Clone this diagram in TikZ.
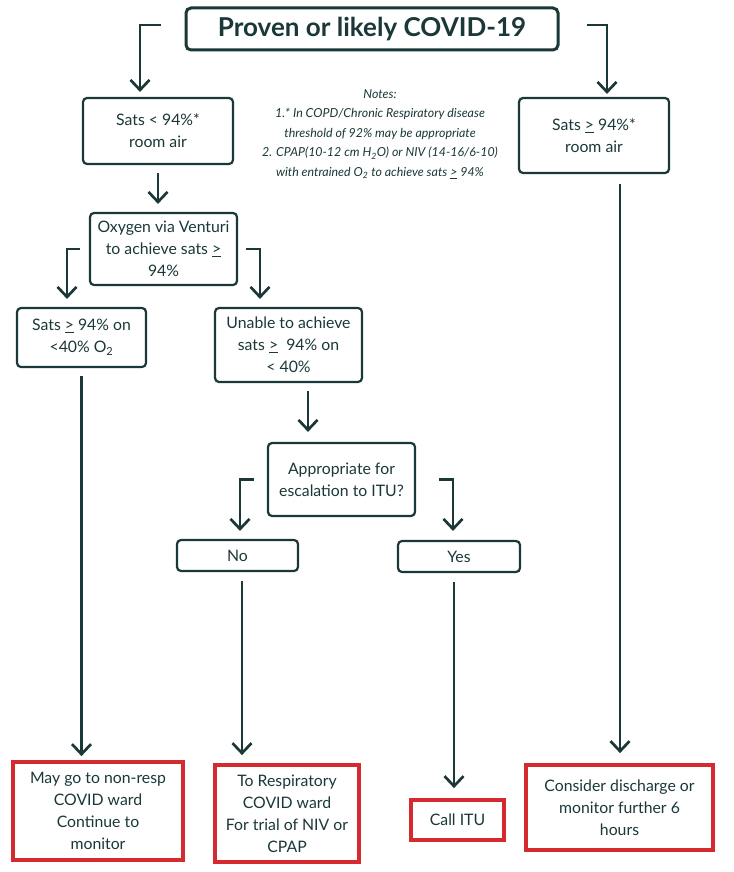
\documentclass[tikz,border=0pt]{standalone}
\usepackage{fontspec}
\setmainfont{Lato}
\usetikzlibrary{arrows.meta,calc}
\definecolor{ink}{HTML}{1B3838}
\definecolor{redb}{HTML}{D42A30}
\begin{document}
\begin{tikzpicture}[x=1pt,y=-1pt,
  txt/.style={text=ink, align=center, inner sep=0pt, font=\fontsize{15.8}{22}\selectfont},
  box/.style={txt, draw=ink, line width=2.2pt, rounded corners=4pt},
  tbox/.style={draw=ink, line width=3pt, rounded corners=5pt, text=ink, inner sep=0pt, font=\fontsize{26}{30}\selectfont\bfseries},
  rbox/.style={txt, draw=redb, line width=3.8pt},
  notes/.style={text=ink, align=center, inner sep=0pt, font=\fontsize{12.4}{19.5}\selectfont\itshape},
  arr/.style={draw=ink, line width=2.7pt, -{Straight Barb[length=10pt,width=19pt]}},
]
\useasboundingbox[fill=white] (0,0) rectangle (733,872);

\node[tbox, minimum width=372pt, minimum height=42pt] (title) at (372,29) {Proven or likely COVID-19};

\node[box, minimum width=150pt, minimum height=66pt] (sats1) at (158,131) {Sats < 94\%*\\room air};
\node[box, minimum width=150pt, minimum height=75pt] (satsR) at (594,135.5) {Sats \underline{>} 94\%*\\room air};
\node[notes] (notes) at (380,134) {Notes:\\1.* In COPD/Chronic Respiratory disease\\threshold of 92\% may be appropriate\\2. CPAP(10-12 cm H\textsubscript{2}O) or NIV (14-16/6-10)\\with entrained O\textsubscript{2} to achieve sats \underline{>} 94\%};

\node[box, minimum width=147pt, minimum height=72pt] (oxy) at (163.5,249) {Oxygen via Venturi\\to achieve sats \underline{>}\\94\%};
\node[box, minimum width=129pt, minimum height=59pt] (sats2) at (81.5,337.5) {Sats \underline{>} 94\% on\\<40\% O\textsubscript{2}};
\node[box, minimum width=147pt, minimum height=74pt] (unable) at (288.5,345) {Unable to achieve\\sats \underline{>}\ \ 94\% on\\< 40\%};
\node[box, minimum width=147pt, minimum height=73pt] (approp) at (341.5,479.5) {Appropriate for\\escalation to ITU?};
\node[box, minimum width=121pt, minimum height=31pt] (no) at (237.5,555.5) {No};
\node[box, minimum width=122pt, minimum height=31pt] (yes) at (459,556.5) {Yes};

\node[rbox, minimum width=170pt, minimum height=98pt] (r1) at (98,811) {May go to non-resp\\COVID ward\\Continue to\\monitor};
\node[rbox, minimum width=144pt, minimum height=97pt] (r2) at (287,813.5) {To Respiratory\\COVID ward\\For trial of NIV or\\CPAP};
\node[rbox, minimum width=93pt, minimum height=40pt] (r3) at (457.5,820) {Call ITU};
\node[rbox, minimum width=187pt, minimum height=85pt] (r4) at (619.5,807.5) {Consider discharge or\\monitor further 6\\hours};

\draw[arr] ($(title.west)+(-24,-4)$) -| ($(sats1.north)+(-18,-5)$);
\draw[arr] ($(title.east)+(27,-4)$) -| ($(satsR.north)+(13,-3)$);
\draw[arr] ($(sats1.south)+(0,8)$) -- ($(sats1.south|-oxy.north)+(0,-8)$);
\draw[arr] ($(oxy.west)+(-9,0)$) -| ($(sats2.north)+(-14.5,-8)$);
\draw[arr] ($(oxy.east)+(8,0)$) -| ($(unable.north)+(-28.5,-8)$);
\draw[arr] ($(sats2.south)+(0,8)$) -- ($(sats2.south|-r1.north)+(0,-4)$);
\draw[arr] ($(unable.south)+(19.5,8)$) -- ($(approp.north)+(-33.5,-10)$);
\draw[arr] ($(approp.west)+(-13,0)$) -| ($(no.north)+(2.5,-8)$);
\draw[arr] ($(approp.east)+(23,0)$) -| ($(yes.north)+(-6,-9)$);
\draw[arr] ($(no.south)+(4.5,9)$) -- ($(r2.north)+(-45,-8)$);
\draw[arr] ($(yes.south)+(-5,9)$) -- ($(r3.north)+(-3.5,-10)$);
\draw[arr] ($(satsR.south)+(26,10)$) -- ($(r4.north)+(0.5,-10)$);
\end{tikzpicture}
\end{document}
